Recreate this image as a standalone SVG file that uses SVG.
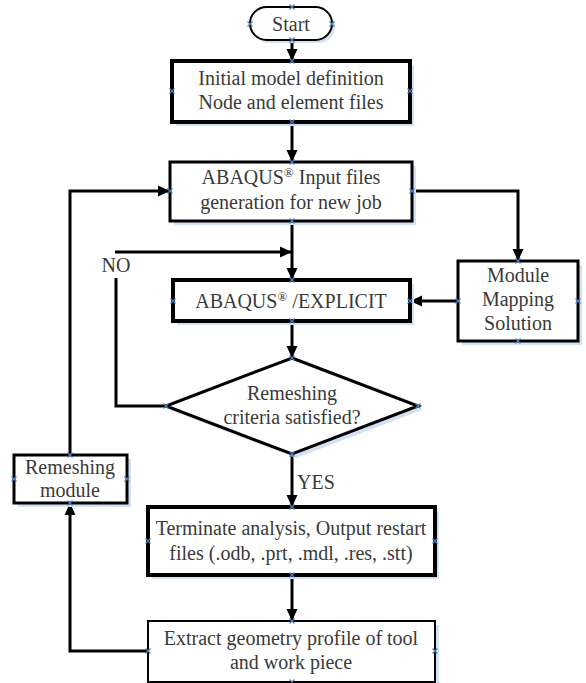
<svg xmlns="http://www.w3.org/2000/svg" width="586" height="683" viewBox="0 0 586 683">
<defs>
<marker id="arr" markerUnits="userSpaceOnUse" markerWidth="12" markerHeight="12" viewBox="0 0 12 12" refX="12" refY="6" orient="auto">
<path d="M0,0.5 L12,6 L0,11.5 Z" fill="#000"/>
</marker>
<path id="cp" d="M-2.5,-2.5 L2.5,2.5 M-2.5,2.5 L2.5,-2.5" stroke="#4a7ebb" stroke-width="1.2" fill="none"/>
</defs>
<style>
text{font-family:"Liberation Serif","Times New Roman",serif;font-size:20px;fill:#3a3a3a;text-anchor:middle}
.sh{fill:#d3e1f2}
.box{fill:#fff;stroke:#000}
.conn{fill:none;stroke:#000;stroke-width:3}
</style>
<rect width="586" height="683" fill="#fff"/>

<g id="connectors">
<path class="conn" d="M292,40 V61" marker-end="url(#arr)"/>
<path class="conn" d="M292,122 V162" marker-end="url(#arr)"/>
<path class="conn" d="M292,221 V280" marker-end="url(#arr)"/>
<path class="conn" d="M166,406 H116 V278"/>
<path class="conn" d="M115,252 H292" marker-end="url(#arr)"/>
<path class="conn" d="M412,191 H518 V261" marker-end="url(#arr)"/>
<path class="conn" d="M458,301 H410" marker-end="url(#arr)"/>
<path class="conn" d="M292,321 V358" marker-end="url(#arr)"/>
<path class="conn" d="M292,454 V507" marker-end="url(#arr)"/>
<path class="conn" d="M292,575 V621" marker-end="url(#arr)"/>
<path class="conn" d="M148,651 H70 V503" marker-end="url(#arr)"/>
<path class="conn" d="M70,455 V191 H170" marker-end="url(#arr)"/>
<text x="116" y="272">NO</text>
<text x="297" y="489" style="text-anchor:start">YES</text>
</g>

<g id="start">
<rect class="sh" x="253" y="10" width="82" height="33" rx="16.5"/>
<rect class="box" x="250" y="7" width="82" height="33" rx="16.5" stroke-width="2"/>
<text x="291" y="31">Start</text>
</g>

<g id="initial">
<rect class="sh" x="176" y="65" width="238" height="61"/>
<rect class="box" x="172" y="61" width="238" height="61" stroke-width="4"/>
<text x="291" y="85">Initial model definition</text>
<text x="291" y="109">Node and element files</text>
</g>

<g id="input">
<rect class="sh" x="174" y="166" width="242" height="59"/>
<rect class="box" x="170" y="162" width="242" height="59" stroke-width="3"/>
<text x="291" y="184">ABAQUS<tspan font-size="13" dy="-7">®</tspan><tspan dy="7"> Input files</tspan></text>
<text x="291" y="209">generation for new job</text>
</g>

<g id="explicit">
<rect class="sh" x="177" y="284" width="237" height="41"/>
<rect class="box" x="173" y="280" width="237" height="41" stroke-width="4"/>
<text x="291" y="308">ABAQUS<tspan font-size="13" dy="-7">®</tspan><tspan dy="7"> /EXPLICIT</tspan></text>
</g>

<g id="mapping">
<rect class="sh" x="462" y="265" width="120" height="80"/>
<rect class="box" x="458" y="261" width="120" height="80" stroke-width="3"/>
<text x="518" y="282">Module</text>
<text x="518" y="306">Mapping</text>
<text x="518" y="330">Solution</text>
</g>

<g id="decision">
<polygon class="sh" points="296,362 422,410 296,458 170,410"/>
<polygon class="box" points="292,358 418,406 292,454 166,406" stroke-width="3" stroke-linejoin="miter"/>
<text x="292" y="400">Remeshing</text>
<text x="292" y="424">criteria satisfied?</text>
</g>

<g id="remeshing">
<rect class="sh" x="18" y="459" width="113" height="48"/>
<rect class="box" x="14" y="455" width="113" height="48" stroke-width="3"/>
<text x="70" y="474">Remeshing</text>
<text x="70" y="497">module</text>
</g>

<g id="terminate">
<rect class="sh" x="152" y="511" width="287" height="68"/>
<rect class="box" x="148" y="507" width="287" height="68" stroke-width="4"/>
<text x="291" y="535">Terminate analysis, Output restart</text>
<text x="291" y="560">files (.odb, .prt, .mdl, .res, .stt)</text>
</g>

<g id="extract">
<rect class="sh" x="152" y="625" width="287" height="62"/>
<rect class="box" x="148" y="621" width="287" height="61" stroke-width="2"/>
<text x="291" y="645">Extract geometry profile of tool</text>
<text x="291" y="669">and work piece</text>
</g>

<g id="connection-points">
<use href="#cp" x="292" y="7"/><use href="#cp" x="250" y="24"/><use href="#cp" x="332" y="24"/><use href="#cp" x="292" y="40"/>
<use href="#cp" x="292" y="61"/><use href="#cp" x="172" y="91"/><use href="#cp" x="410" y="91"/><use href="#cp" x="292" y="122"/>
<use href="#cp" x="292" y="162"/><use href="#cp" x="170" y="191"/><use href="#cp" x="412" y="191"/><use href="#cp" x="292" y="221"/>
<use href="#cp" x="292" y="280"/><use href="#cp" x="173" y="301"/><use href="#cp" x="410" y="301"/><use href="#cp" x="292" y="321"/>
<use href="#cp" x="518" y="261"/><use href="#cp" x="458" y="301"/><use href="#cp" x="578" y="301"/><use href="#cp" x="518" y="341"/>
<use href="#cp" x="292" y="358"/><use href="#cp" x="166" y="406"/><use href="#cp" x="418" y="406"/><use href="#cp" x="292" y="454"/>
<use href="#cp" x="70" y="455"/><use href="#cp" x="14" y="479"/><use href="#cp" x="127" y="479"/><use href="#cp" x="70" y="503"/>
<use href="#cp" x="292" y="507"/><use href="#cp" x="148" y="541"/><use href="#cp" x="435" y="541"/><use href="#cp" x="292" y="575"/>
<use href="#cp" x="292" y="621"/><use href="#cp" x="148" y="651"/><use href="#cp" x="435" y="651"/><use href="#cp" x="292" y="682"/>
</g>
</svg>
